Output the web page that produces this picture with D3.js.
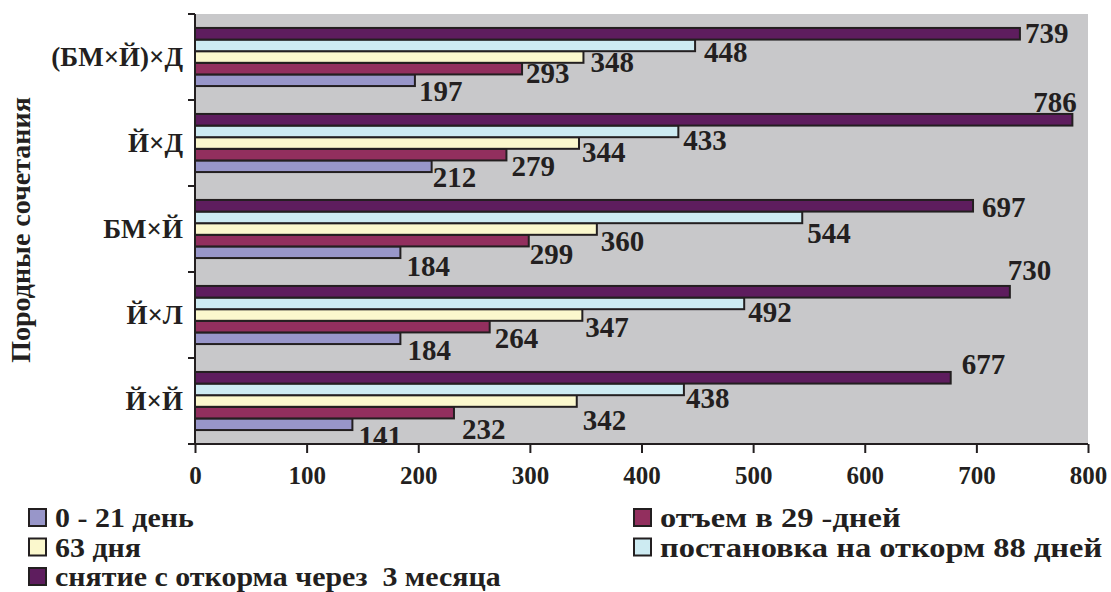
<!DOCTYPE html>
<html>
<head>
<meta charset="utf-8">
<script src="https://cdn.jsdelivr.net/npm/d3@7/dist/d3.min.js"></script>
<style>
  html, body { margin: 0; padding: 0; background: #fff; }
  svg { display: block; }
  text { font-family: "Liberation Serif", "Times New Roman", serif; font-weight: bold; fill: #231f20; white-space: pre; }
</style>
</head>
<body>
<svg id="chart" width="1111" height="592"></svg>
<script>
// Breed combinations, listed top to bottom
const categories = ["(БМ×Й)×Д", "Й×Д", "БМ×Й", "Й×Л", "Й×Й"];

// Series names (legend order)
const seriesNames = [
  "0 - 21 день",
  "отъем в 29 -дней",
  "63 дня",
  "постановка на откорм 88 дней",
  "снятие с откорма через  3 месяца"
];

// Values per series, aligned with categories
const s0to21   = [197, 212, 184, 184, 141];
const sWean29  = [293, 279, 299, 264, 232];
const s63      = [348, 344, 360, 347, 342];
const sFeed88  = [448, 433, 544, 492, 438];
const sOff3m   = [739, 786, 697, 730, 677];
const seriesValues = [s0to21, sWean29, s63, sFeed88, sOff3m];

const xTicks = [0, 100, 200, 300, 400, 500, 600, 700, 800];
const yTitle = "Породные сочетания";

// ---- styling / layout ----
const colors = ["#9896c9", "#922f5e", "#fbf8cd", "#cdebf2", "#5e1d5e"];
const ink = "#231f20";
const plot = { left: 195, right: 1088, top: 14, bottom: 444 };

// label nudges [dx, dy] per category/series, relative to the default spot
const labelNudge = [
  [[-1, 0], [-1, -6], [2, -6], [4, -4], [0, -12]],
  [[-4, 0], [0, 1], [-2, -2], [0, -2], [-44, -29]],
  [[1, 3], [-4, 3], [-1, 1], [0, 5], [4, -10]],
  [[2, 1], [0, 1], [-2, 1], [-1, -2], [-7, -33]],
  [[1, 1], [3, 6], [1, 8], [-3, -2], [6, -25]]
];

const svg = d3.select("#chart");

const x = d3.scaleLinear().domain([0, 800]).range([plot.left, plot.right]);
const y = d3.scaleBand().domain(categories).range([plot.top, plot.bottom]);
// last series on top inside each group
const seriesOrder = [4, 3, 2, 1, 0];
const yInner = d3.scaleBand().domain(seriesOrder).range([0, y.bandwidth()]).paddingOuter(1.2);

// plot background
svg.append("rect")
  .attr("x", plot.left).attr("y", plot.top)
  .attr("width", plot.right - plot.left).attr("height", plot.bottom - plot.top)
  .attr("fill", "#c8c8ca");

svg.append("clipPath").attr("id", "plotclip")
  .append("rect")
  .attr("x", plot.left).attr("y", plot.top)
  .attr("width", plot.right - plot.left).attr("height", plot.bottom - plot.top);

const rows = [];
categories.forEach((c, ci) => {
  seriesValues.forEach((vals, si) => {
    rows.push({ c, ci, si, v: vals[ci] });
  });
});

// bars
svg.append("g").selectAll("rect")
  .data(rows)
  .join("rect")
  .attr("x", x(0))
  .attr("y", d => y(d.c) + yInner(d.si))
  .attr("width", d => x(d.v) - x(0))
  .attr("height", yInner.bandwidth())
  .attr("fill", d => colors[d.si])
  .attr("stroke", ink)
  .attr("stroke-width", 2);

// value labels
svg.append("g").attr("clip-path", "url(#plotclip)")
  .selectAll("text")
  .data(rows)
  .join("text")
  .attr("x", d => x(d.v) + 5 + labelNudge[d.ci][d.si][0])
  .attr("y", d => y(d.c) + yInner(d.si) + yInner.bandwidth() + 15 + labelNudge[d.ci][d.si][1])
  .attr("font-size", 29)
  .text(d => d.v);

// x axis
const xAxis = svg.append("g")
  .attr("transform", `translate(0,${plot.bottom})`)
  .call(d3.axisBottom(x).tickValues(xTicks).tickSize(9).tickSizeOuter(0).tickPadding(13).tickFormat(d3.format("d")));
xAxis.select(".domain").attr("stroke", ink).attr("stroke-width", 2)
  .attr("d", `M${plot.left - 7},0H${plot.right}`);
xAxis.selectAll(".tick line").attr("stroke", ink).attr("stroke-width", 2);
xAxis.selectAll(".tick text").attr("font-size", 25).attr("fill", ink)
  .attr("font-family", '"Liberation Serif", serif').attr("font-weight", "bold");

// y axis: line with ticks on category boundaries
const yAxis = svg.append("g");
yAxis.append("line")
  .attr("x1", plot.left).attr("x2", plot.left)
  .attr("y1", plot.top).attr("y2", plot.bottom + 1)
  .attr("stroke", ink).attr("stroke-width", 2);
const bounds = categories.map(c => y(c)).concat([plot.bottom]);
yAxis.selectAll("line.tk")
  .data(bounds)
  .join("line")
  .attr("class", "tk")
  .attr("x1", plot.left - 7).attr("x2", plot.left)
  .attr("y1", d => d).attr("y2", d => d)
  .attr("stroke", ink).attr("stroke-width", 2);
yAxis.selectAll("text")
  .data(categories)
  .join("text")
  .attr("x", 183)
  .attr("y", d => y(d) + y.bandwidth() / 2)
  .attr("dy", "0.35em")
  .attr("text-anchor", "end")
  .attr("font-size", 27)
  .text(d => d);

// y axis title
svg.append("text")
  .attr("transform", "translate(30,230) rotate(-90)")
  .attr("text-anchor", "middle")
  .attr("font-size", 28)
  .text(yTitle);

// legend: two columns, wide bold lettering
const legendPos = [
  { x: 28, y: 508, sx: 1.07 },
  { x: 633, y: 508, sx: 1.16 },
  { x: 28, y: 537.5, sx: 1.07 },
  { x: 633, y: 537.5, sx: 1.16 },
  { x: 28, y: 567, sx: 1.07 }
];
const legend = svg.append("g").selectAll("g")
  .data(seriesNames)
  .join("g")
  .attr("transform", (d, i) => `translate(${legendPos[i].x},${legendPos[i].y})`);
legend.append("rect")
  .attr("x", 1).attr("y", 1)
  .attr("width", 17).attr("height", 17)
  .attr("fill", (d, i) => colors[i])
  .attr("stroke", ink).attr("stroke-width", 2);
legend.append("text")
  .attr("transform", (d, i) => `translate(27,19) scale(${legendPos[i].sx},1)`)
  .attr("font-size", 28)
  .text(d => d);
</script>
</body>
</html>
